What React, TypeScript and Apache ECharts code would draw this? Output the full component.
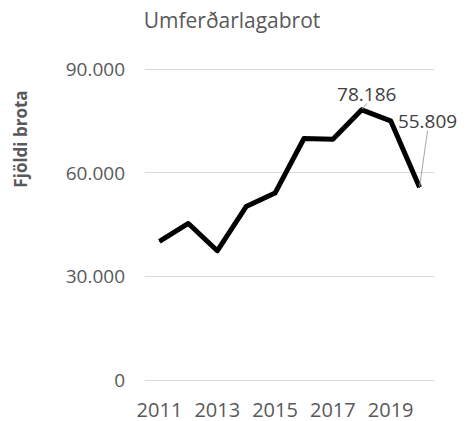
import React, { useEffect, useRef } from "react";
import * as echarts from "echarts";

const title = "Umferðarlagabrot";
const yAxisTitle = "Fjöldi brota";
const years = ["2011", "2012", "2013", "2014", "2015", "2016", "2017", "2018", "2019", "2020"];
const offences = [40100, 45300, 37400, 50200, 54100, 69900, 69700, 78186, 75000, 55809];
const labelledIndices = [7, 9];
const yTicks = [0, 30000, 60000, 90000];

const FONT = "'Open Sans', 'Noto Sans', sans-serif";

const fmt = (v: number) => String(Math.round(v)).replace(/\B(?=(\d{3})+(?!\d))/g, ".");

export default function App() {
  const ref = useRef<HTMLDivElement>(null);
  useEffect(() => {
    if (!ref.current) return;
    document.body.style.margin = "0";
    const chart = echarts.init(ref.current, null, { renderer: "svg" });
    chart.setOption({
      animation: false,
      backgroundColor: "#ffffff",
      title: {
        text: title,
        left: 227,
        top: 4,
        textAlign: "center",
        textStyle: { fontFamily: FONT, fontSize: 21, fontWeight: "normal", color: "#595959" },
      },
      graphic: [
        {
          type: "text",
          x: 20,
          y: 139,
          rotation: Math.PI / 2,
          style: {
            text: yAxisTitle,
            fontFamily: FONT,
            fontSize: 17,
            fontWeight: "bold",
            fill: "#595959",
            align: "center",
            verticalAlign: "middle",
          },
        },
      ],
      grid: { left: 145, right: 37, top: 69, bottom: 41 },
      xAxis: {
        type: "category",
        data: years,
        boundaryGap: true,
        axisLine: { show: false },
        axisTick: { show: false },
        axisLabel: {
          interval: 1,
          margin: 19,
          lineHeight: 20,
          fontFamily: FONT,
          fontSize: 20,
          color: "#595959",
        },
      },
      yAxis: {
        type: "value",
        min: yTicks[0],
        max: yTicks[yTicks.length - 1],
        interval: yTicks[1] - yTicks[0],
        axisLine: { show: false },
        axisTick: { show: false },
        splitLine: { lineStyle: { color: "#d9d9d9", width: 1 } },
        axisLabel: {
          margin: 20,
          fontFamily: FONT,
          fontSize: 19,
          color: "#595959",
          formatter: (v: number) => fmt(v),
        },
      },
      series: [
        {
          type: "line",
          data: offences.map((v, i) => ({
            value: v,
            label: { show: labelledIndices.includes(i) },
          })),
          symbol: "circle",
          symbolSize: 1,
          showSymbol: true,
          itemStyle: { color: "#000000" },
          lineStyle: { color: "#000000", width: 5, join: "round" },
          label: {
            show: false,
            position: "top",
            distance: 6,
            fontFamily: FONT,
            fontSize: 19,
            color: "#404040",
            formatter: (p: any) => fmt(p.value),
          },
          labelLine: { show: true, lineStyle: { color: "#a6a6a6", width: 1 } },
          labelLayout: (p: any) => (p.dataIndex === 9 ? { dx: 8, dy: -50 } : { dx: 5 }),
        },
      ],
    });
    return () => chart.dispose();
  }, []);
  return <div ref={ref} style={{ width: 471, height: 421 }} />;
}
